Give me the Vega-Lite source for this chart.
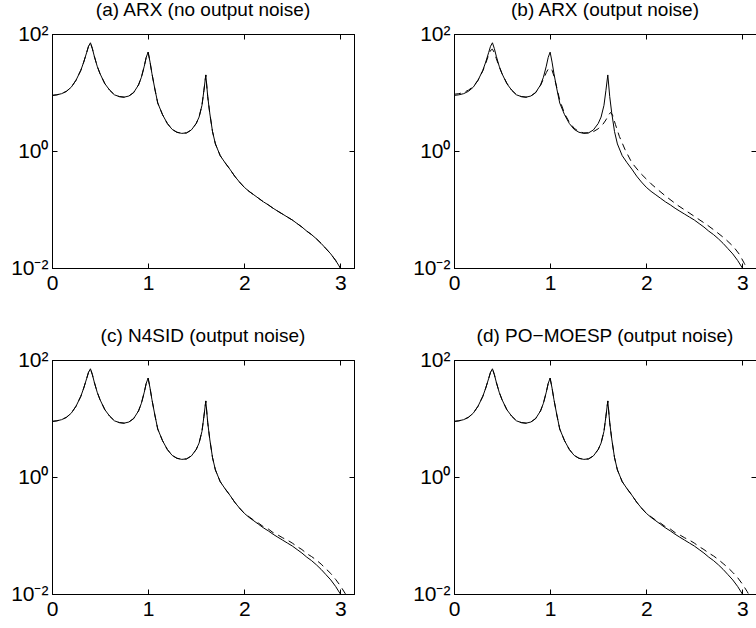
{
"$schema": "https://vega.github.io/schema/vega-lite/v6.json",
"padding": {"left": 10, "top": 0, "right": 0, "bottom": 0},
"background": "white",
"config": {
  "font": "Liberation Sans",
  "view": {"stroke": "black", "strokeWidth": 1},
  "title": {"fontSize": 19, "fontWeight": "normal", "color": "black", "offset": 3},
  "axis": {"domainColor": "black", "tickColor": "black", "labelColor": "black", "labelFontSize": 21, "labelPadding": 9, "tickSize": -5, "grid": false, "labelFlush": false, "labelOverlap": false, "labelFont": "Liberation Sans"}
},
"datasets": {
  "truth": [{"w":0,"m":8.91},{"w":0.05,"m":9.12},{"w":0.1,"m":9.55},{"w":0.15,"m":10.47},{"w":0.2,"m":12.3},{"w":0.25,"m":16.22},{"w":0.3,"m":23.99},{"w":0.33,"m":33.11},{"w":0.36,"m":47.86},{"w":0.38,"m":61.66},{"w":0.4,"m":70.79},{"w":0.42,"m":56.23},{"w":0.44,"m":41.69},{"w":0.47,"m":28.18},{"w":0.5,"m":20.89},{"w":0.55,"m":14.13},{"w":0.6,"m":10.96},{"w":0.65,"m":9.12},{"w":0.7,"m":8.51},{"w":0.75,"m":8.32},{"w":0.8,"m":8.71},{"w":0.85,"m":10.0},{"w":0.9,"m":13.49},{"w":0.93,"m":18.2},{"w":0.96,"m":28.18},{"w":0.98,"m":39.81},{"w":1.0,"m":48.98},{"w":1.02,"m":33.11},{"w":1.04,"m":20.89},{"w":1.07,"m":11.48},{"w":1.1,"m":6.61},{"w":1.15,"m":4.17},{"w":1.2,"m":2.95},{"w":1.25,"m":2.34},{"w":1.3,"m":2.09},{"w":1.35,"m":2.0},{"w":1.4,"m":2.04},{"w":1.45,"m":2.29},{"w":1.5,"m":2.95},{"w":1.53,"m":3.8},{"w":1.56,"m":6.03},{"w":1.58,"m":10.72},{"w":1.6,"m":19.95},{"w":1.62,"m":8.51},{"w":1.64,"m":4.57},{"w":1.67,"m":2.14},{"w":1.7,"m":1.32},{"w":1.75,"m":0.832},{"w":1.8,"m":0.631},{"w":1.85,"m":0.49},{"w":1.9,"m":0.372},{"w":1.95,"m":0.295},{"w":2.0,"m":0.24},{"w":2.05,"m":0.204},{"w":2.1,"m":0.178},{"w":2.15,"m":0.155},{"w":2.2,"m":0.135},{"w":2.25,"m":0.12},{"w":2.3,"m":0.105},{"w":2.35,"m":0.0933},{"w":2.4,"m":0.0832},{"w":2.45,"m":0.0741},{"w":2.5,"m":0.0661},{"w":2.55,"m":0.0575},{"w":2.6,"m":0.0501},{"w":2.65,"m":0.0427},{"w":2.7,"m":0.0372},{"w":2.75,"m":0.0316},{"w":2.8,"m":0.0263},{"w":2.85,"m":0.0214},{"w":2.9,"m":0.0174},{"w":2.95,"m":0.0135},{"w":3.0,"m":0.01},{"w":3.05,"m":0.00708},{"w":3.1,"m":0.00468},{"w":3.1416,"m":0.00316}],
  "arxn": [{"w":0,"m":9.33},{"w":0.05,"m":9.55},{"w":0.1,"m":10.0},{"w":0.15,"m":10.96},{"w":0.2,"m":12.59},{"w":0.25,"m":16.22},{"w":0.3,"m":23.44},{"w":0.33,"m":31.62},{"w":0.36,"m":43.65},{"w":0.38,"m":52.48},{"w":0.4,"m":54.95},{"w":0.42,"m":47.86},{"w":0.44,"m":38.02},{"w":0.47,"m":27.54},{"w":0.5,"m":20.89},{"w":0.55,"m":14.45},{"w":0.6,"m":10.96},{"w":0.65,"m":9.12},{"w":0.7,"m":8.51},{"w":0.75,"m":8.32},{"w":0.8,"m":8.71},{"w":0.85,"m":10.0},{"w":0.9,"m":13.18},{"w":0.93,"m":16.98},{"w":0.96,"m":21.88},{"w":0.98,"m":25.12},{"w":1.0,"m":26.3},{"w":1.02,"m":23.99},{"w":1.04,"m":19.05},{"w":1.07,"m":12.02},{"w":1.1,"m":7.41},{"w":1.15,"m":4.37},{"w":1.2,"m":3.09},{"w":1.25,"m":2.45},{"w":1.3,"m":2.14},{"w":1.35,"m":2.04},{"w":1.4,"m":2.04},{"w":1.45,"m":2.14},{"w":1.5,"m":2.4},{"w":1.55,"m":2.88},{"w":1.58,"m":3.39},{"w":1.61,"m":4.17},{"w":1.63,"m":4.57},{"w":1.65,"m":4.07},{"w":1.68,"m":2.82},{"w":1.72,"m":1.78},{"w":1.78,"m":1.05},{"w":1.85,"m":0.631},{"w":1.94,"m":0.417},{"w":2.05,"m":0.275},{"w":2.12,"m":0.219},{"w":2.2,"m":0.17},{"w":2.33,"m":0.117},{"w":2.43,"m":0.0912},{"w":2.53,"m":0.0708},{"w":2.63,"m":0.055},{"w":2.72,"m":0.0427},{"w":2.82,"m":0.0316},{"w":2.91,"m":0.0229},{"w":2.97,"m":0.017},{"w":3.02,"m":0.012},{"w":3.06,"m":0.00891},{"w":3.1,"m":0.00631},{"w":3.1416,"m":0.00437}],
  "n4sid": [{"w":0,"m":8.91},{"w":0.05,"m":9.12},{"w":0.1,"m":9.55},{"w":0.15,"m":10.47},{"w":0.2,"m":12.3},{"w":0.25,"m":16.22},{"w":0.3,"m":23.99},{"w":0.33,"m":33.11},{"w":0.36,"m":47.86},{"w":0.38,"m":61.66},{"w":0.4,"m":70.79},{"w":0.42,"m":56.23},{"w":0.44,"m":41.69},{"w":0.47,"m":28.18},{"w":0.5,"m":20.89},{"w":0.55,"m":14.13},{"w":0.6,"m":10.96},{"w":0.65,"m":9.12},{"w":0.7,"m":8.51},{"w":0.75,"m":8.32},{"w":0.8,"m":8.71},{"w":0.85,"m":10.0},{"w":0.9,"m":13.49},{"w":0.93,"m":18.2},{"w":0.96,"m":28.18},{"w":0.98,"m":39.81},{"w":1.0,"m":48.98},{"w":1.02,"m":33.11},{"w":1.04,"m":20.89},{"w":1.07,"m":11.48},{"w":1.1,"m":6.61},{"w":1.15,"m":4.17},{"w":1.2,"m":2.95},{"w":1.25,"m":2.34},{"w":1.3,"m":2.09},{"w":1.35,"m":2.0},{"w":1.4,"m":2.04},{"w":1.45,"m":2.29},{"w":1.5,"m":2.95},{"w":1.53,"m":3.8},{"w":1.56,"m":6.03},{"w":1.58,"m":10.72},{"w":1.6,"m":19.95},{"w":1.62,"m":8.51},{"w":1.64,"m":4.57},{"w":1.67,"m":2.14},{"w":1.7,"m":1.32},{"w":1.75,"m":0.832},{"w":1.8,"m":0.631},{"w":1.85,"m":0.49},{"w":1.9,"m":0.372},{"w":1.95,"m":0.295},{"w":2.0,"m":0.24},{"w":2.05,"m":0.209},{"w":2.1,"m":0.182},{"w":2.15,"m":0.162},{"w":2.2,"m":0.141},{"w":2.25,"m":0.129},{"w":2.3,"m":0.112},{"w":2.35,"m":0.102},{"w":2.4,"m":0.0912},{"w":2.45,"m":0.0832},{"w":2.5,"m":0.0741},{"w":2.55,"m":0.0646},{"w":2.6,"m":0.0575},{"w":2.65,"m":0.049},{"w":2.7,"m":0.0437},{"w":2.75,"m":0.038},{"w":2.8,"m":0.0324},{"w":2.85,"m":0.0269},{"w":2.9,"m":0.0224},{"w":2.95,"m":0.0178},{"w":3.0,"m":0.0138},{"w":3.05,"m":0.0102},{"w":3.1,"m":0.00708},{"w":3.1416,"m":0.00501}],
  "moesp": [{"w":0,"m":8.91},{"w":0.05,"m":9.12},{"w":0.1,"m":9.55},{"w":0.15,"m":10.47},{"w":0.2,"m":12.3},{"w":0.25,"m":16.22},{"w":0.3,"m":23.99},{"w":0.33,"m":33.11},{"w":0.36,"m":47.86},{"w":0.38,"m":61.66},{"w":0.4,"m":70.79},{"w":0.42,"m":56.23},{"w":0.44,"m":41.69},{"w":0.47,"m":28.18},{"w":0.5,"m":20.89},{"w":0.55,"m":14.13},{"w":0.6,"m":10.96},{"w":0.65,"m":9.12},{"w":0.7,"m":8.51},{"w":0.75,"m":8.32},{"w":0.8,"m":8.71},{"w":0.85,"m":10.0},{"w":0.9,"m":13.49},{"w":0.93,"m":18.2},{"w":0.96,"m":28.18},{"w":0.98,"m":39.81},{"w":1.0,"m":48.98},{"w":1.02,"m":33.11},{"w":1.04,"m":20.89},{"w":1.07,"m":11.48},{"w":1.1,"m":6.61},{"w":1.15,"m":4.17},{"w":1.2,"m":2.95},{"w":1.25,"m":2.34},{"w":1.3,"m":2.09},{"w":1.35,"m":2.0},{"w":1.4,"m":2.04},{"w":1.45,"m":2.29},{"w":1.5,"m":2.95},{"w":1.53,"m":3.8},{"w":1.56,"m":6.03},{"w":1.58,"m":10.72},{"w":1.6,"m":19.95},{"w":1.62,"m":8.51},{"w":1.64,"m":4.57},{"w":1.67,"m":2.14},{"w":1.7,"m":1.32},{"w":1.75,"m":0.832},{"w":1.8,"m":0.631},{"w":1.85,"m":0.49},{"w":1.9,"m":0.372},{"w":1.95,"m":0.295},{"w":2.0,"m":0.24},{"w":2.05,"m":0.209},{"w":2.1,"m":0.182},{"w":2.15,"m":0.162},{"w":2.2,"m":0.141},{"w":2.25,"m":0.129},{"w":2.3,"m":0.112},{"w":2.35,"m":0.102},{"w":2.4,"m":0.0912},{"w":2.45,"m":0.0832},{"w":2.5,"m":0.0741},{"w":2.55,"m":0.0646},{"w":2.6,"m":0.0575},{"w":2.65,"m":0.0501},{"w":2.7,"m":0.0447},{"w":2.75,"m":0.0389},{"w":2.8,"m":0.0331},{"w":2.85,"m":0.0282},{"w":2.9,"m":0.0234},{"w":2.95,"m":0.0191},{"w":3.0,"m":0.0148},{"w":3.05,"m":0.011},{"w":3.1,"m":0.00776},{"w":3.1416,"m":0.0055}]
},
"spacing": 32,
"vconcat": [
 {"spacing": 57, "hconcat": [
  {"title": "(a) ARX (no output noise)", "width": 302, "height": 234,
   "layer": [
    {"data": {"name": "truth"}, "mark": {"type": "line", "color": "black", "strokeWidth": 1, "clip": true},
     "encoding": {
      "x": {"field": "w", "type": "quantitative", "scale": {"domain": [0, 3.1416], "nice": false, "zero": false}, "axis": {"orient": "bottom", "values": [0, 1, 2, 3], "format": "d", "title": null}},
      "y": {"field": "m", "type": "quantitative", "scale": {"type": "log", "domain": [0.01, 100], "nice": false}, "axis": {"orient": "left", "values": [0.01, 1, 100], "labelExpr": "datum.value > 10 ? '10²' : datum.value > 0.1 ? '10⁰' : '10⁻²'", "title": null}}}},
    {"data": {"name": "truth"}, "mark": {"type": "line", "color": "black", "strokeWidth": 1, "strokeDash": [7, 5], "clip": true},
     "encoding": {
      "x": {"field": "w", "type": "quantitative", "axis": {"orient": "top", "values": [0, 1, 2, 3], "labels": false, "title": null}},
      "y": {"field": "m", "type": "quantitative", "axis": {"orient": "right", "values": [0.01, 1, 100], "labels": false, "title": null}}}}
   ],
   "resolve": {"axis": {"x": "independent", "y": "independent"}}},
  {"title": "(b) ARX (output noise)", "width": 302, "height": 234,
   "layer": [
    {"data": {"name": "truth"}, "mark": {"type": "line", "color": "black", "strokeWidth": 1, "clip": true},
     "encoding": {
      "x": {"field": "w", "type": "quantitative", "scale": {"domain": [0, 3.1416], "nice": false, "zero": false}, "axis": {"orient": "bottom", "values": [0, 1, 2, 3], "format": "d", "title": null}},
      "y": {"field": "m", "type": "quantitative", "scale": {"type": "log", "domain": [0.01, 100], "nice": false}, "axis": {"orient": "left", "values": [0.01, 1, 100], "labelExpr": "datum.value > 10 ? '10²' : datum.value > 0.1 ? '10⁰' : '10⁻²'", "title": null}}}},
    {"data": {"name": "arxn"}, "mark": {"type": "line", "color": "black", "strokeWidth": 1, "strokeDash": [7, 5], "clip": true},
     "encoding": {
      "x": {"field": "w", "type": "quantitative", "axis": {"orient": "top", "values": [0, 1, 2, 3], "labels": false, "title": null}},
      "y": {"field": "m", "type": "quantitative", "axis": {"orient": "right", "values": [0.01, 1, 100], "labels": false, "title": null}}}}
   ],
   "resolve": {"axis": {"x": "independent", "y": "independent"}}}
 ]},
 {"spacing": 57, "hconcat": [
  {"title": "(c) N4SID (output noise)", "width": 302, "height": 234,
   "layer": [
    {"data": {"name": "truth"}, "mark": {"type": "line", "color": "black", "strokeWidth": 1, "clip": true},
     "encoding": {
      "x": {"field": "w", "type": "quantitative", "scale": {"domain": [0, 3.1416], "nice": false, "zero": false}, "axis": {"orient": "bottom", "values": [0, 1, 2, 3], "format": "d", "title": null}},
      "y": {"field": "m", "type": "quantitative", "scale": {"type": "log", "domain": [0.01, 100], "nice": false}, "axis": {"orient": "left", "values": [0.01, 1, 100], "labelExpr": "datum.value > 10 ? '10²' : datum.value > 0.1 ? '10⁰' : '10⁻²'", "title": null}}}},
    {"data": {"name": "n4sid"}, "mark": {"type": "line", "color": "black", "strokeWidth": 1, "strokeDash": [7, 5], "clip": true},
     "encoding": {
      "x": {"field": "w", "type": "quantitative", "axis": {"orient": "top", "values": [0, 1, 2, 3], "labels": false, "title": null}},
      "y": {"field": "m", "type": "quantitative", "axis": {"orient": "right", "values": [0.01, 1, 100], "labels": false, "title": null}}}}
   ],
   "resolve": {"axis": {"x": "independent", "y": "independent"}}},
  {"title": "(d) PO−MOESP (output noise)", "width": 302, "height": 234,
   "layer": [
    {"data": {"name": "truth"}, "mark": {"type": "line", "color": "black", "strokeWidth": 1, "clip": true},
     "encoding": {
      "x": {"field": "w", "type": "quantitative", "scale": {"domain": [0, 3.1416], "nice": false, "zero": false}, "axis": {"orient": "bottom", "values": [0, 1, 2, 3], "format": "d", "title": null}},
      "y": {"field": "m", "type": "quantitative", "scale": {"type": "log", "domain": [0.01, 100], "nice": false}, "axis": {"orient": "left", "values": [0.01, 1, 100], "labelExpr": "datum.value > 10 ? '10²' : datum.value > 0.1 ? '10⁰' : '10⁻²'", "title": null}}}},
    {"data": {"name": "moesp"}, "mark": {"type": "line", "color": "black", "strokeWidth": 1, "strokeDash": [7, 5], "clip": true},
     "encoding": {
      "x": {"field": "w", "type": "quantitative", "axis": {"orient": "top", "values": [0, 1, 2, 3], "labels": false, "title": null}},
      "y": {"field": "m", "type": "quantitative", "axis": {"orient": "right", "values": [0.01, 1, 100], "labels": false, "title": null}}}}
   ],
   "resolve": {"axis": {"x": "independent", "y": "independent"}}}
 ]}
]
}
